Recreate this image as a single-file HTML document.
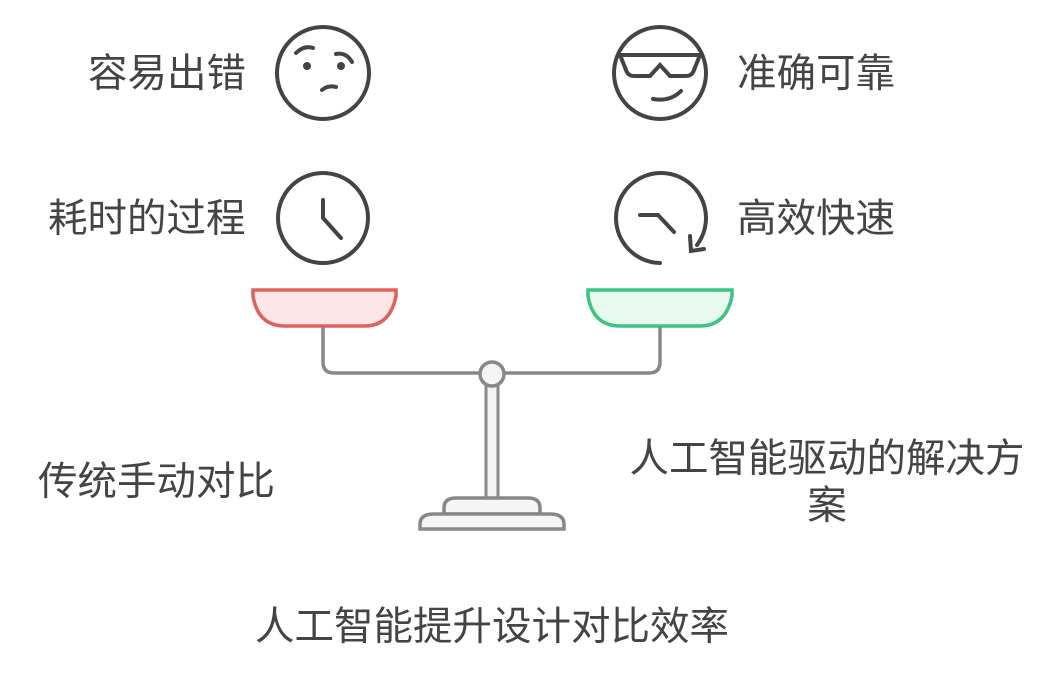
<!DOCTYPE html>
<html><head><meta charset="utf-8"><style>
body{margin:0;width:1056px;height:674px;background:#fff;overflow:hidden}
svg text{font-family:"Liberation Sans","Noto Sans CJK SC",sans-serif;fill:#444;font-size:39.5px}
</style></head><body>
<svg width="1056" height="674" xmlns="http://www.w3.org/2000/svg">
<g fill="none" stroke="#444" stroke-width="4" stroke-linecap="round">
<circle cx="323" cy="73" r="46"/>
<path d="M296 53 Q304 45 313 48"/><path d="M336 54 Q346 52 352 62"/>
<circle cx="307" cy="66" r="2" fill="#444"/><circle cx="341" cy="66" r="2" fill="#444"/>
<path d="M322 90 Q328 85 336 87"/>
<circle cx="660" cy="73" r="46"/>
<path d="M620 55 H700 L694 70 Q692 76 686 76 H670 L660 65 L650 76 H634 Q628 76 626 70 Z"/>
<path d="M653 99 Q670 102 681 91"/>
<circle cx="323" cy="218" r="45"/>
<path d="M323 200 V218 L341 238"/>
<path d="M660 263 A45 45 0 1 1 697 245"/>
<path d="M640 215 H658 L674 232"/>
<path d="M690 236 L691 251 L704 249"/>
</g>
<path d="M253 290 H396 V296 Q390 326 365 326 H285 Q258 326 253 296 Z" fill="#fde6e6" stroke="#e0605c" stroke-width="3.5"/>
<path d="M588 290 H732 V296 Q726 326 700 326 H620 Q593 326 588 296 Z" fill="#e8f9f0" stroke="#3cc482" stroke-width="3.5"/>
<path d="M323 327 V362 Q323 373 334 373 H649 Q660 373 660 362 V327" fill="none" stroke="#888" stroke-width="3.5"/>
<rect x="486" y="385" width="12" height="113" fill="#f3f3f3" stroke="#888" stroke-width="3"/>
<circle cx="492" cy="374" r="12" fill="#f5f5f5" stroke="#888" stroke-width="3.5"/>
<path d="M444 514 V508 Q444 498 456 498 H528 Q540 498 540 508 V514 Z" fill="#f5f5f5" stroke="#888" stroke-width="3.5"/>
<path d="M420 529 V524 Q420 514 434 514 H550 Q564 514 564 524 V529 Z" fill="#f5f5f5" stroke="#888" stroke-width="3.5"/>
<text x="88" y="87">容易出错</text>
<text x="48" y="232">耗时的过程</text>
<text x="737" y="87">准确可靠</text>
<text x="737" y="232">高效快速</text>
<text x="38" y="495">传统手动对比</text>
<text x="827" y="472" text-anchor="middle">人工智能驱动的解决方</text>
<text x="827" y="519" text-anchor="middle">案</text>
<text x="492" y="640" text-anchor="middle">人工智能提升设计对比效率</text>
</svg>
</body></html>
